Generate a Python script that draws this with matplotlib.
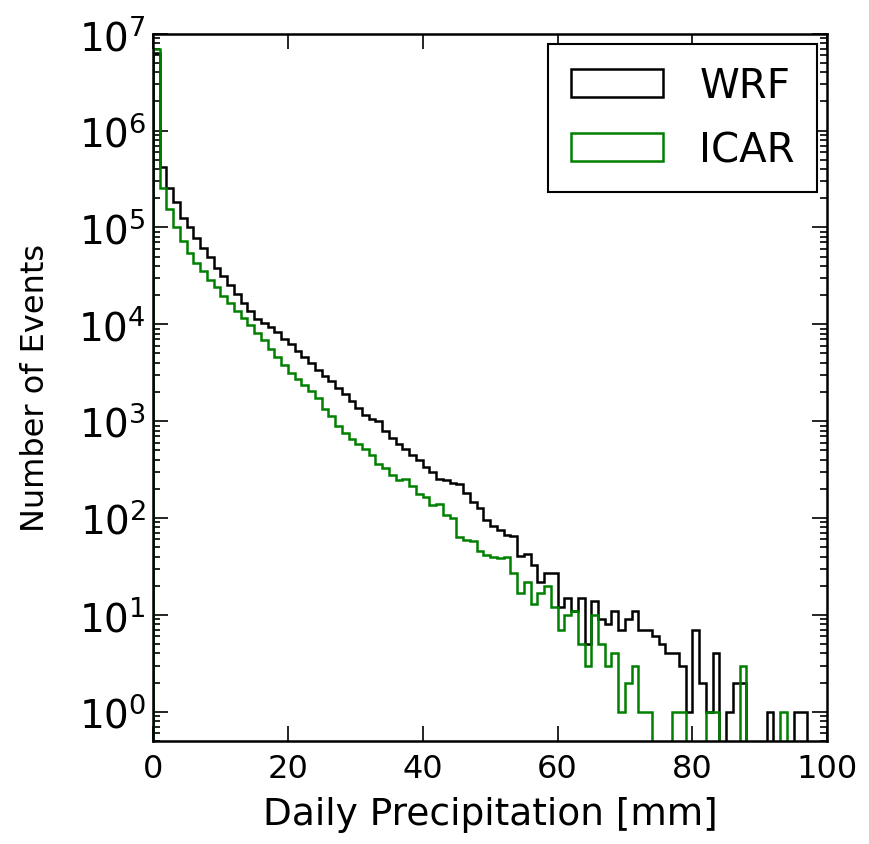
import numpy as np
import matplotlib
matplotlib.use('Agg')
import matplotlib.pyplot as plt

# histogram counts per 1 mm bin, 0..100 mm
bin_edges = list(range(0, 101))

wrf_counts = [6300000, 417000, 257000, 182000, 126000, 100000, 77600, 61700, 49000, 38000,
              31600, 25700, 20400, 16600, 13800, 11200, 10200, 9300, 8300, 7100,
              6200, 5250, 4570, 3980, 3390, 2950, 2570, 2190, 1900, 1620,
              1380, 1170, 1050, 1000, 794, 676, 575, 513, 447, 398,
              339, 302, 251, 248, 229, 226, 182, 148, 126, 95,
              83, 76, 66, 65, 41, 43, 33, 22, 27, 27,
              12, 15, 11, 15, 5, 14, 9, 8, 11, 7,
              9, 11, 7, 7, 6, 5, 4, 4, 3, 1,
              7, 2, 1, 4, 0, 1, 2, 2, 0, 0,
              0, 1, 0, 0, 0, 1, 1, 0, 0, 0]

icar_counts = [6900000, 257000, 155000, 100000, 72400, 55000, 42700, 35500, 28800, 24000,
               19500, 16600, 13800, 11700, 9800, 8100, 6800, 5600, 4600, 3800,
               3160, 2750, 2340, 2040, 1740, 1320, 1120, 891, 759, 661,
               575, 513, 447, 363, 331, 275, 245, 251, 214, 178,
               166, 135, 141, 107, 100, 63, 59, 58, 46, 42,
               40, 39, 40, 27, 17, 22, 13, 17, 20, 12,
               7, 10, 11, 5, 3, 10, 5, 3, 4, 1,
               2, 3, 1, 1, 0, 0, 0, 1, 1, 0,
               0, 0, 1, 1, 0, 0, 0, 3, 0, 0,
               0, 0, 0, 1, 0, 0, 0, 0, 0, 0]

series_names = ['WRF', 'ICAR']
series_colors = ['k', 'g']

edges = np.array(bin_edges, dtype=float)
centers = (edges[:-1] + edges[1:]) / 2.0

fig = plt.figure(figsize=(8.69, 8.45), dpi=100)
ax = fig.add_axes([0.176, 0.122, 0.776, 0.837])

for counts, name, color in zip([wrf_counts, icar_counts], series_names, series_colors):
    ax.hist(centers, bins=edges, weights=counts, histtype='step', log=True,
            color=color, linewidth=1.8, label=name)

ax.set_yscale('log', nonpositive='clip')
ax.set_xlim(0, 100)
ax.set_ylim(0.5, 1e7)
ax.set_xticks([0, 20, 40, 60, 80, 100])

ax.tick_params(which='both', direction='in', top=True, right=True, width=1.2)
ax.tick_params(which='major', length=11)
ax.tick_params(which='minor', length=5)
ax.tick_params(axis='x', labelsize=23, pad=9)
ax.tick_params(axis='y', labelsize=28, pad=5)
for sp in ax.spines.values():
    sp.set_linewidth(1.8)

ax.set_xlabel('Daily Precipitation [mm]', fontsize=27, labelpad=8)
ax.set_ylabel('Number of Events', fontsize=23, labelpad=20)

leg = ax.legend(loc='upper right', fontsize=29, fancybox=False, edgecolor='k',
                framealpha=1, handlelength=2.3, handletextpad=0.9,
                borderaxespad=0.25, borderpad=0.55, labelspacing=0.6)
leg.get_frame().set_linewidth(1.5)

fig.savefig('out.png', dpi=100)
